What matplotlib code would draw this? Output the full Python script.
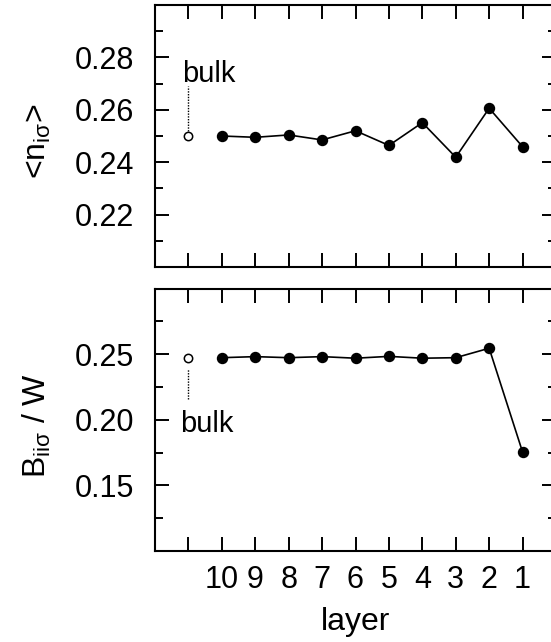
import numpy as np
import matplotlib.pyplot as plt
from matplotlib.ticker import MultipleLocator

plt.rcParams['font.family'] = ['Liberation Sans', 'DejaVu Sans']
plt.rcParams['mathtext.fontset'] = 'custom'
plt.rcParams['mathtext.rm'] = 'Liberation Sans'
plt.rcParams['mathtext.it'] = 'Liberation Sans'
plt.rcParams['mathtext.bf'] = 'Liberation Sans'

# data
layers = [10, 9, 8, 7, 6, 5, 4, 3, 2, 1]
n_layer = [0.2500, 0.2495, 0.2504, 0.2485, 0.2520, 0.2464, 0.2551, 0.2419, 0.2606, 0.2459]
n_bulk = 0.2500
B_layer = [0.2474, 0.2482, 0.2474, 0.2482, 0.2470, 0.2484, 0.2470, 0.2474, 0.2546, 0.1754]
B_bulk = 0.2474
bulk_x = 11
xtick_labels = ['', '10', '9', '8', '7', '6', '5', '4', '3', '2', '1']

W, H = 551, 642
fig = plt.figure(figsize=(W / 100, H / 100), dpi=100)

left = 155 / W
width = (556 - 155) / W
ax1 = fig.add_axes((left, 1 - 267 / H, width, (267 - 5) / H))
ax2 = fig.add_axes((left, 1 - 551 / H, width, (551 - 288.7) / H))

fs = 22

def style(ax, ylim, major, minor):
    ax.set_xlim(12, 0)
    ax.set_ylim(*ylim)
    ax.set_xticks([bulk_x] + layers)
    ax.yaxis.set_major_locator(MultipleLocator(major))
    ax.yaxis.set_minor_locator(MultipleLocator(minor))
    ax.tick_params(which='both', direction='in', top=True, right=True, width=1.4)
    ax.tick_params(which='major', length=10)
    ax.tick_params(which='minor', length=5.5)
    ax.tick_params(axis='y', labelsize=fs, pad=15)
    ax.tick_params(axis='x', labelsize=fs, pad=10)
    for s in ax.spines.values():
        s.set_linewidth(1.5)

# top panel
style(ax1, (0.20, 0.30), 0.02, 0.01)
ax1.set_yticks([0.22, 0.24, 0.26, 0.28])
ax1.set_xticklabels([])
ax1.plot(layers, n_layer, '-o', color='black', lw=1.2, ms=7.2)
ax1.plot([bulk_x], [n_bulk], 'o', mfc='white', mec='black', ms=6, mew=1.1)
ax1.plot([bulk_x, bulk_x], [0.2518, 0.2691], color='black', lw=1.0,
         linestyle=(0, (1, 1)))
ax1.text(11.2, 0.2708, 'bulk', fontsize=21, ha='left', va='baseline')
ax1.set_ylabel(r'<n$_{i\sigma}$>', fontsize=23)
ax1.yaxis.set_label_coords(-0.255, 0.48)

# bottom panel
style(ax2, (0.10, 0.30), 0.05, 0.025)
ax2.set_yticks([0.15, 0.20, 0.25])
ax2.set_yticklabels(['0.15', '0.20', '0.25'])
ax2.set_xticklabels(xtick_labels)
ax2.plot(layers, B_layer, '-o', color='black', lw=1.2, ms=7.2)
ax2.plot([bulk_x], [B_bulk], 'o', mfc='white', mec='black', ms=6, mew=1.1)
ax2.plot([bulk_x, bulk_x], [0.2157, 0.2388], color='black', lw=1.0,
         linestyle=(0, (1, 1)))
ax2.text(11.25, 0.1905, 'bulk', fontsize=21, ha='left', va='baseline')
ax2.set_ylabel(r'B$_{ii\sigma}$ / W', fontsize=23)
ax2.yaxis.set_label_coords(-0.255, 0.477)
ax2.set_xlabel('layer', fontsize=23)
ax2.xaxis.set_label_coords(0.5, -0.215)

fig.savefig('out.png', dpi=100)
